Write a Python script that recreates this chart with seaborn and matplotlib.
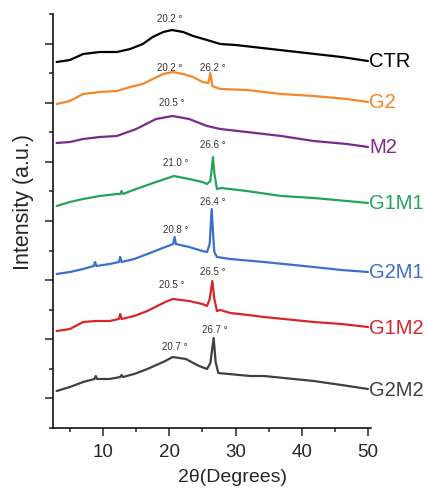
import numpy as np
import pandas as pd
import matplotlib
matplotlib.use("Agg")
import matplotlib.pyplot as plt
import seaborn as sns

# ---- data ----
samples = ["CTR", "G2", "M2", "G1M1", "G2M1", "G1M2", "G2M2"]
colors = ["#000000", "#f5862a", "#7b2a8c", "#23a45a", "#3b6fc9", "#d7262b", "#404040"]
offsets = [367, 326, 281, 225, 156, 101, 39]

ctr_x = [3, 5, 7, 9.5, 12.1, 14.1, 16, 17.5, 19.1, 20.4, 22.1, 23.6, 25.7, 27.7, 30, 34, 38, 42, 46, 50]
ctr_y = [-1, 1, 7, 9, 9, 12, 17, 24, 29, 31, 29, 25, 21, 17, 16, 13, 10, 7, 4, 0]

g2_x = [3, 5, 7, 9.5, 12.1, 14.1, 16, 17.5, 19.1, 20.5, 22.1, 23.6, 25.0, 25.9, 26.2, 26.5, 27.7, 31.7,
        36.9, 41.8, 46.8, 50]
g2_y = [-2, 1, 8, 10, 11, 15, 18, 23, 28, 30, 28, 25, 20, 19, 29, 16, 13, 12, 8, 6, 3, 0]

m2_x = [3, 5, 7, 9.5, 12.1, 15, 18, 20.5, 23, 25.7, 27.7, 31.7, 36.9, 41.8, 46.8, 50]
m2_y = [4, 5, 8, 10, 11, 18, 28, 31, 28, 21, 18, 15, 11, 6, 3, 0]

g1m1_x = [3, 5, 7, 9.5, 12.1, 12.6, 12.8, 13.0, 15, 18, 20.7, 23, 25, 25.7, 26.2, 26.4, 26.6, 26.8, 27.2,
          27.8, 31.7, 36.9, 41.8, 46.8, 50]
g1m1_y = [-3, 1, 4, 7, 9, 9, 12, 9, 14, 21, 27, 24, 21, 19, 22, 34, 46, 30, 14, 15, 12, 7, 5, 2, 0]

g2m1_x = [3, 5, 7, 8.6, 8.8, 9.0, 11, 12.4, 12.6, 12.8, 14.7, 16.7, 19.4, 20.6, 20.8, 21.0, 23, 25, 25.7,
          26.1, 26.4, 26.6, 26.8, 27.2, 29.2, 34.3, 41.8, 46, 50]
g2m1_y = [-2, 0, 3, 6, 10, 6, 8, 10, 15, 10, 13, 18, 25, 28, 35, 28, 25, 21, 20, 28, 63, 40, 20, 15, 13, 10,
          5, 2, 0]

g1m2_x = [3, 5, 7, 8.9, 11, 12.4, 12.6, 12.8, 14.7, 16.7, 19.4, 20.5, 23, 25, 25.7, 26.1, 26.5, 26.8, 27.2,
          27.7, 29.2, 31.9, 34.3, 41.8, 46, 50]
g1m2_y = [-4, -2, 5, 6, 6, 8, 13, 8, 11, 16, 25, 28, 26, 23, 21, 28, 46, 28, 16, 17, 14, 12, 10, 5, 3, 0]

g2m2_x = [3, 5, 7, 8.7, 8.9, 9.1, 11, 12.6, 12.8, 13.0, 14.7, 16.7, 19.4, 20.5, 22.5, 24.5, 25.7, 26.2, 26.7,
          27.0, 27.4, 29, 32.2, 34.3, 41.8, 46, 50]
g2m2_y = [-2, 2, 7, 10, 13, 10, 10, 12, 14, 12, 15, 20, 28, 32, 30, 23, 20, 26, 51, 27, 16, 15, 13, 13, 8, 4, 0]

series_x = [ctr_x, g2_x, m2_x, g1m1_x, g2m1_x, g1m2_x, g2m2_x]
series_y = [ctr_y, g2_y, m2_y, g1m1_y, g2m1_y, g1m2_y, g2m2_y]

# peak annotations
peak_text = ["20.2 °", "20.2 °", "26.2 °", "20.5 °", "21.0 °", "26.6 °", "20.8 °", "26.4 °",
             "20.5 °", "26.5 °", "20.7 °", "26.7 °"]
peak_tx = [20.1, 20.1, 26.5, 20.4, 21.0, 26.6, 21.0, 26.5, 20.4, 26.6, 20.9, 26.9]
peak_ty = [410, 361, 361, 326, 266, 284, 199, 227, 144, 157, 82, 99]

# ---- build long-form table ----
rows = []
for name, xs, ys, off in zip(samples, series_x, series_y, offsets):
    for xv, yv in zip(xs, ys):
        rows.append({"sample": name, "theta": xv, "intensity": off + yv})
df = pd.DataFrame(rows)

sns.set_style("ticks")
plt.rcParams["font.family"] = ["Liberation Sans", "DejaVu Sans"]

fig = plt.figure(figsize=(4.28, 4.89), dpi=100)
ax = fig.add_axes([53 / 428, 1 - 429 / 489, 318 / 428, 414 / 489])

sns.lineplot(data=df, x="theta", y="intensity", hue="sample", hue_order=samples,
             palette=colors, estimator=None, sort=False, units="sample",
             legend=False, linewidth=1.6, ax=ax)

for name, col, off in zip(samples, colors, offsets):
    ax.text(50.2, off, name, color=col, fontsize=14.5, ha="left", va="center")

for t, tx, ty in zip(peak_text, peak_tx, peak_ty):
    ax.text(tx, ty, t, fontsize=7, color="#333333", ha="center", va="center")

ax.set_xlim(2.45, 50.45)
ax.set_ylim(0, 414)
unit = 414 / 14
ax.set_xticks([10, 20, 30, 40, 50])
ax.set_xticks([5, 15, 25, 35, 45], minor=True)
ax.set_yticks([unit * (2 * k + 1) for k in range(7)])
ax.set_yticks([unit * 2 * k for k in range(8)], minor=True)
ax.set_yticklabels([])
ax.tick_params(axis="both", which="major", direction="out", length=6, width=1.1, labelsize=13.5)
ax.tick_params(axis="both", which="minor", direction="out", length=3, width=1.1)
ax.tick_params(axis="x", pad=5)
for s in ["top", "right"]:
    ax.spines[s].set_visible(False)
for s in ["left", "bottom"]:
    ax.spines[s].set_linewidth(1.1)
    ax.spines[s].set_color("black")

ax.set_xlabel("2θ(Degrees)", fontsize=14)
ax.set_ylabel("Intensity (a.u.)", fontsize=15.5)
ax.xaxis.set_label_coords(0.566, -0.116)
ax.yaxis.set_label_coords(-0.094, 0.548)
ax.xaxis.label.set_va("center")
ax.yaxis.label.set_va("center")

fig.savefig("out.png", dpi=100)
